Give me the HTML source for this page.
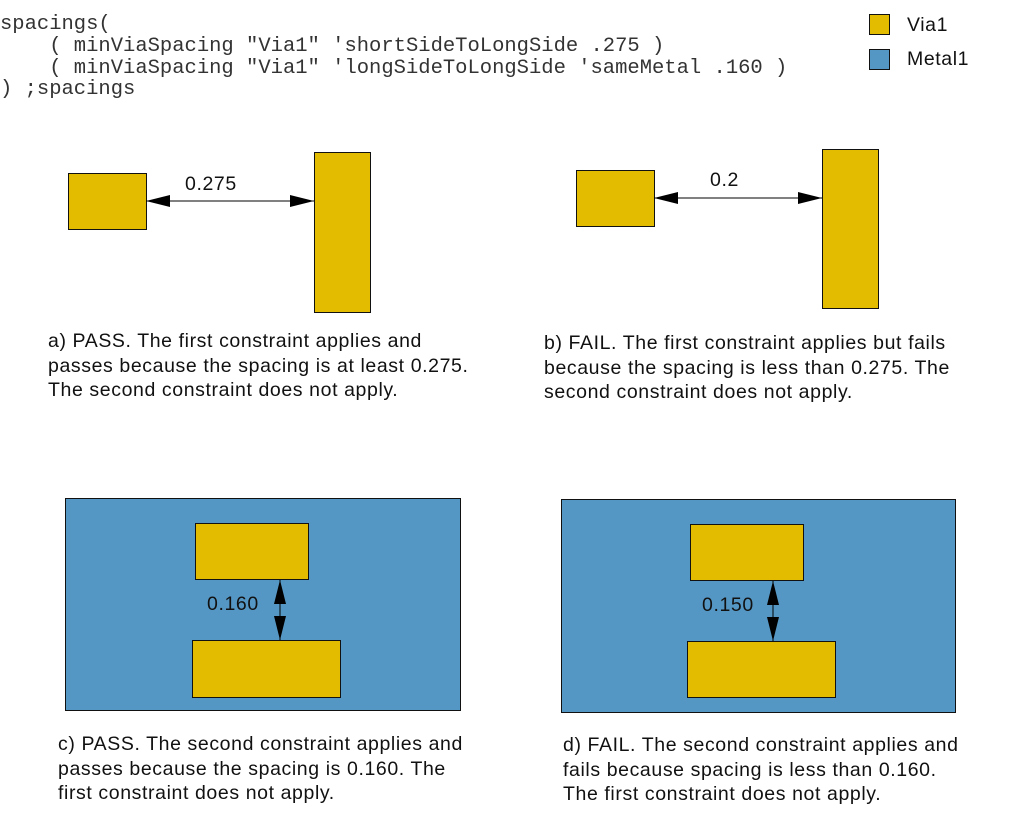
<!DOCTYPE html>
<html><head><style>
body{margin:0;background:#fff;width:1013px;height:830px;overflow:hidden}
svg{display:block}
.c{font-family:"Liberation Mono",monospace;font-size:20.5px;fill:#333}
.t{font-family:"Liberation Sans",sans-serif;font-size:19.5px;letter-spacing:0.6px;fill:#111}
.y{fill:#E3BC00;stroke:#111;stroke-width:1}
.b{fill:#5597C4;stroke:#111;stroke-width:1}
</style></head><body>
<svg width="1013" height="830" xmlns="http://www.w3.org/2000/svg">
<defs>
<marker id="a" markerWidth="24" markerHeight="12" refX="24" refY="6" orient="auto-start-reverse" markerUnits="userSpaceOnUse"><path d="M0,0 L24,6 L0,12 Z" fill="#000"/></marker>
</defs>
<text class="c" x="0" y="29" xml:space="preserve">spacings(</text>
<text class="c" x="0" y="51" xml:space="preserve">    ( minViaSpacing "Via1" 'shortSideToLongSide .275 )</text>
<text class="c" x="0" y="73" xml:space="preserve">    ( minViaSpacing "Via1" 'longSideToLongSide 'sameMetal .160 )</text>
<text class="c" x="0" y="94" xml:space="preserve">) ;spacings</text>

<rect class="y" x="869.5" y="14.5" width="20" height="20"/>
<text class="t" x="907" y="31">Via1</text>
<rect class="b" x="869.5" y="49.5" width="20" height="20"/>
<text class="t" x="907" y="65">Metal1</text>

<!-- a -->
<rect class="y" x="68.5" y="173.5" width="78" height="56"/>
<rect class="y" x="314.5" y="152.5" width="56" height="160"/>
<line x1="146" y1="201" x2="314" y2="201" stroke="#000" marker-start="url(#a)" marker-end="url(#a)"/>
<text class="t" x="185" y="190">0.275</text>
<text class="t" x="48" y="347">a) PASS. The first constraint applies and</text>
<text class="t" x="48" y="372">passes because the spacing is at least 0.275.</text>
<text class="t" x="48" y="396">The second constraint does not apply.</text>

<!-- b -->
<rect class="y" x="576.5" y="170.5" width="78" height="56"/>
<rect class="y" x="822.5" y="149.5" width="56" height="159"/>
<line x1="654" y1="198" x2="822" y2="198" stroke="#000" marker-start="url(#a)" marker-end="url(#a)"/>
<text class="t" x="710" y="186">0.2</text>
<text class="t" x="544" y="349">b) FAIL. The first constraint applies but fails</text>
<text class="t" x="544" y="374">because the spacing is less than 0.275. The</text>
<text class="t" x="544" y="398">second constraint does not apply.</text>

<!-- c -->
<rect class="b" x="65.5" y="498.5" width="395" height="212"/>
<rect class="y" x="195.5" y="523.5" width="113" height="56"/>
<rect class="y" x="192.5" y="640.5" width="148" height="57"/>
<line x1="280" y1="580" x2="280" y2="640" stroke="#000" marker-start="url(#a)" marker-end="url(#a)"/>
<text class="t" x="207" y="610">0.160</text>
<text class="t" x="58" y="750">c) PASS. The second constraint applies and</text>
<text class="t" x="58" y="775">passes because the spacing is 0.160. The</text>
<text class="t" x="58" y="799">first constraint does not apply.</text>

<!-- d -->
<rect class="b" x="561.5" y="499.5" width="394" height="213"/>
<rect class="y" x="690.5" y="524.5" width="113" height="56"/>
<rect class="y" x="687.5" y="641.5" width="148" height="56"/>
<line x1="773" y1="581" x2="773" y2="641" stroke="#000" marker-start="url(#a)" marker-end="url(#a)"/>
<text class="t" x="702" y="611">0.150</text>
<text class="t" x="563" y="751">d) FAIL. The second constraint applies and</text>
<text class="t" x="563" y="776">fails because spacing is less than 0.160.</text>
<text class="t" x="563" y="800">The first constraint does not apply.</text>
</svg>
</body></html>
